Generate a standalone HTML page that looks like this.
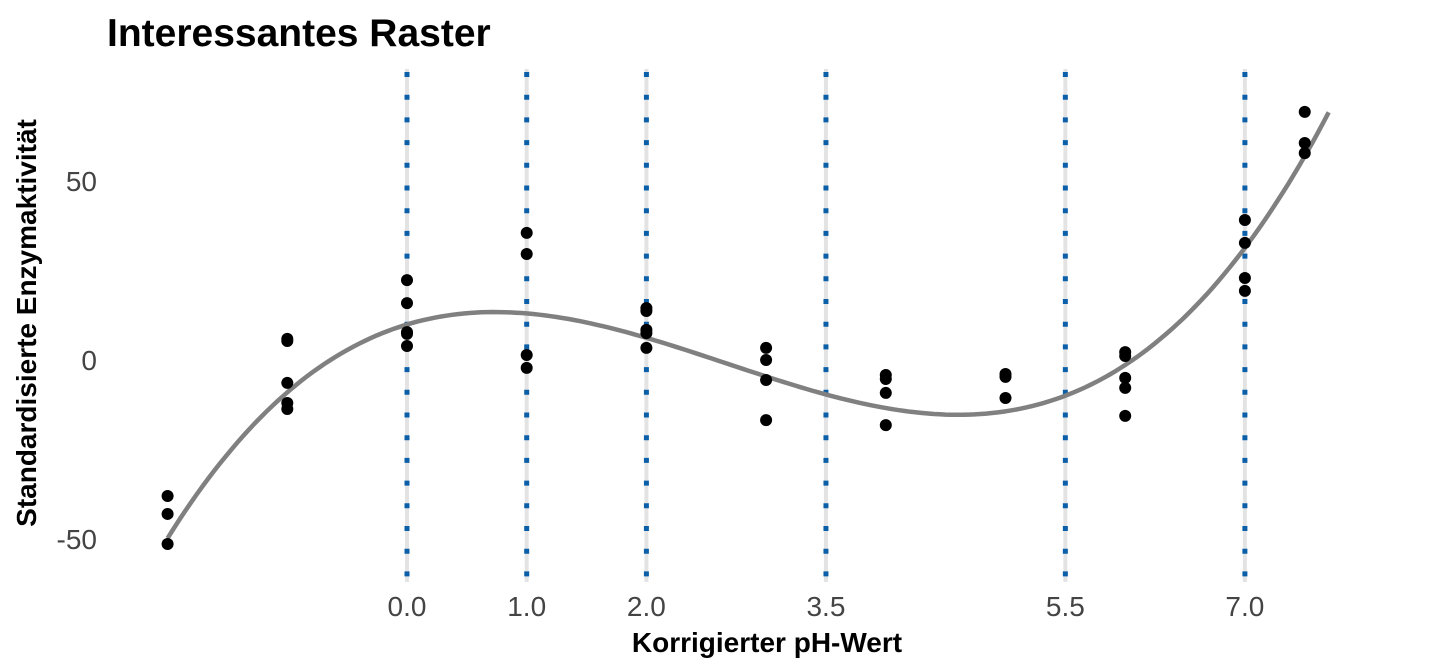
<!DOCTYPE html>
<html><head><meta charset="utf-8"><style>
body{margin:0;background:#fff;}
svg{display:block;font-family:"Liberation Sans",sans-serif;}
</style></head><body>
<svg id="c" width="1440" height="672">
<text x="107" y="46" font-size="39" font-weight="bold" fill="#000">Interessantes Raster</text>
<text transform="translate(36,323) rotate(-90)" text-anchor="middle" font-size="28" font-weight="bold" fill="#000">Standardisierte Enzymaktivität</text>
<text x="767" y="652" text-anchor="middle" font-size="28" font-weight="bold" fill="#000">Korrigierter pH-Wert</text>
<g id="grid"></g><g id="curve"></g><g id="pts"></g><g id="ticks"></g>
</svg>
<script>
const xBreaks=[0,1,2,3.5,5.5,7];
const xTickLabels=["0.0","1.0","2.0","3.5","5.5","7.0"];
const yTicks=[-50,0,50];
const yTickLabels=["-50","0","50"];
const ptX=[-2,-2,-2,-1,-1,-1,-1,-1,0,0,0,0,0,1,1,1,1,2,2,2,2,2,3,3,3,3,4,4,4,4,5,5,5,6,6,6,6,6,7,7,7,7,7.5,7.5,7.5];
const ptY=[-38,-43,-51.4,5.9,5.3,-6.4,-12,-13.7,22.3,15.9,7.8,7.3,3.9,35.5,29.6,1.4,-2.2,14.5,13.7,8.4,7.5,3.4,3.4,0,-5.6,-16.8,-4.2,-5.3,-9.2,-18.2,-3.9,-4.7,-10.6,2.2,1.1,-5,-7.8,-15.6,39.1,32.7,22.9,19.3,69.3,60.6,57.8];
const curveX=[-2,-1,0,0.7,2,3.5,4.6,5.5,7,7.7];
const curveY=[-50,-9,10.6,13.4,5.6,-9.8,-15.6,-9.2,31.3,69];
const curveRange=[-2,7.7];
const NS="http://www.w3.org/2000/svg";
const sx=v=>407+v*119.7, sy=v=>360-v*3.58;
function mk(t,a,p){const e=document.createElementNS(NS,t);for(const k in a)e.setAttribute(k,a[k]);p.appendChild(e);return e;}
const g=document.getElementById('grid');
xBreaks.forEach((b,i)=>{
 const l=mk('line',{x1:sx(b),x2:sx(b),y1:69,y2:582,stroke:'#e3e3e3','stroke-width':4},g);
 
 
 const d=mk('line',{x1:sx(b),x2:sx(b),y1:72,y2:582,stroke:'#0a5fa8','stroke-width':5,'stroke-dasharray':'5 17.7'},g);
 
 
 const t=mk('text',{x:sx(b),y:616,'text-anchor':'middle','font-size':28,fill:'#444'},document.getElementById('ticks'));
 t.textContent=xTickLabels[i];
 
 
});
yTicks.forEach((v,i)=>{
 const t=mk('text',{x:97,y:sy(v)+10,'text-anchor':'end','font-size':28,fill:'#444'},document.getElementById('ticks'));
 t.textContent=yTickLabels[i];
 
 
});
// least-squares cubic through curve samples
const A=[[0,0,0,0],[0,0,0,0],[0,0,0,0],[0,0,0,0]],B=[0,0,0,0];
curveX.forEach((x,k)=>{for(let i=0;i<4;i++){B[i]+=Math.pow(x,i)*curveY[k];for(let j=0;j<4;j++)A[i][j]+=Math.pow(x,i+j);}});
for(let i=0;i<4;i++){for(let r=i+1;r<4;r++){const f=A[r][i]/A[i][i];for(let c=i;c<4;c++)A[r][c]-=f*A[i][c];B[r]-=f*B[i];}}
const co=[0,0,0,0];for(let i=3;i>=0;i--){let s=B[i];for(let c=i+1;c<4;c++)s-=A[i][c]*co[c];co[i]=s/A[i][i];}
let dstr='';for(let k=0;k<=200;k++){const x=curveRange[0]+(curveRange[1]-curveRange[0])*k/200;const y=co[0]+co[1]*x+co[2]*x*x+co[3]*x*x*x;dstr+=(k?'L':'M')+sx(x).toFixed(1)+','+sy(y).toFixed(1);}
const cv=mk('path',{d:dstr,fill:'none',stroke:'#808080','stroke-width':4.5},document.getElementById('curve'));


ptX.forEach((x,k)=>{
 const c=mk('circle',{cx:sx(x),cy:sy(ptY[k]),r:6,fill:'#000'},document.getElementById('pts'));
 
 
});
</script>
</body></html>
